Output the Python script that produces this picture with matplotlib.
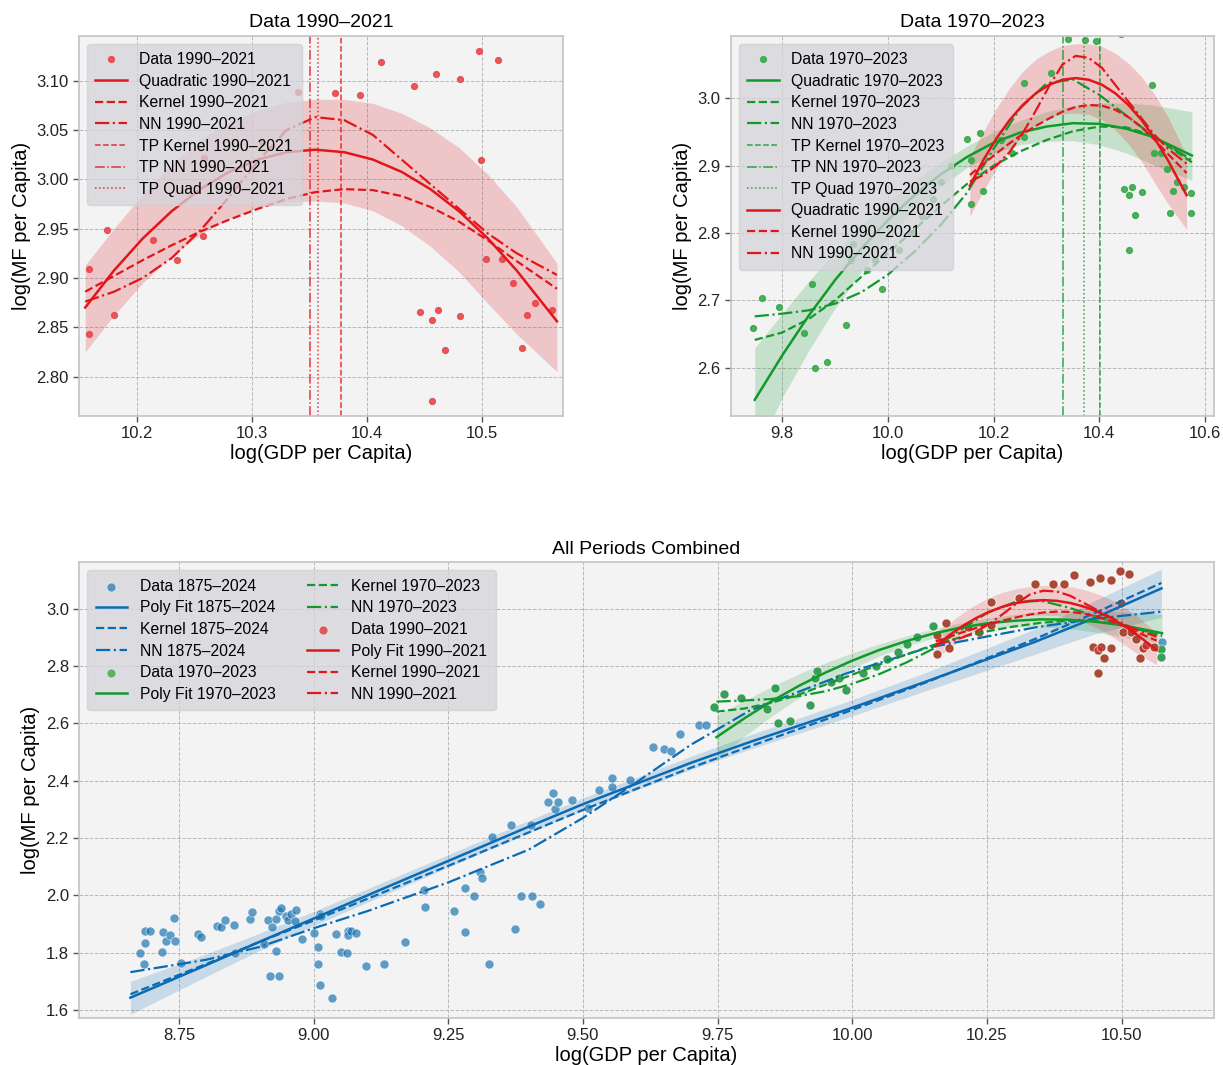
import numpy as np
import matplotlib.pyplot as plt

plt.rcParams['font.family'] = ['Liberation Sans', 'DejaVu Sans']

RED = '#e0161b'
GREEN = '#12992c'
BLUE = '#0a6ab3'
RED_PT = '#e8474a'
GREEN_PT = '#3aa84a'

# ---------------- data ----------------
# 1990-2021
x_90 = [10.158, 10.158, 10.1735, 10.180, 10.214, 10.235, 10.257, 10.258, 10.309, 10.340,
        10.372, 10.394, 10.412, 10.4405, 10.4595, 10.4806, 10.4974, 10.5138, 10.4987, 10.5034,
        10.517, 10.527, 10.5344, 10.539, 10.546, 10.561, 10.446, 10.456, 10.4617, 10.468,
        10.4806, 10.456]
y_90 = [2.909, 2.843, 2.949, 2.862, 2.938, 2.918, 2.942, 3.022, 3.038, 3.088,
        3.087, 3.0855, 3.119, 3.095, 3.107, 3.102, 3.130, 3.121, 3.020, 2.919,
        2.919, 2.895, 2.829, 2.8625, 2.875, 2.8676, 2.865, 2.857, 2.8676, 2.827,
        2.8615, 2.7747]

# 1970-1989 and 2022-2023 (rest of 1970-2023)
x_70only = [9.744, 9.761, 9.793, 9.841, 9.856, 9.862, 9.885, 9.921, 9.930, 9.934,
            9.960, 9.975, 9.989, 10.020, 10.045, 10.065, 10.085, 10.101, 10.120, 10.150]
y_70only = [2.658, 2.704, 2.690, 2.651, 2.724, 2.600, 2.608, 2.663, 2.760, 2.784,
            2.745, 2.760, 2.716, 2.775, 2.800, 2.825, 2.850, 2.876, 2.900, 2.940]
x_2223 = [10.574, 10.574]
y_2223 = [2.860, 2.830]

# 1875-1969 and 2024 (rest of 1875-2024)
x_early = [8.677, 8.686, 8.687, 8.687, 8.697, 8.719, 8.721, 8.726, 8.733, 8.741,
           8.742, 8.754, 8.785, 8.791, 8.820, 8.829, 8.835, 8.852, 8.855, 8.882,
           8.885, 8.908, 8.915, 8.920, 8.923, 8.931, 8.931, 8.935, 8.935, 8.940,
           8.948, 8.952, 8.959, 8.965, 8.967, 8.979, 9.001, 9.009, 9.009, 9.011,
           9.011, 9.014, 9.034, 9.041, 9.050, 9.062, 9.063, 9.064, 9.069, 9.078,
           9.097, 9.130, 9.170, 9.205, 9.207, 9.260, 9.282, 9.282, 9.297, 9.309,
           9.312, 9.326, 9.331, 9.367, 9.373, 9.385, 9.403, 9.405, 9.420, 9.435,
           9.444, 9.448, 9.454, 9.480, 9.510, 9.530, 9.554, 9.554, 9.587, 9.631,
           9.650, 9.664, 9.680, 9.716, 9.729]
y_early = [1.800, 1.762, 1.834, 1.877, 1.877, 1.804, 1.871, 1.842, 1.860, 1.922,
           1.842, 1.765, 1.866, 1.856, 1.893, 1.889, 1.913, 1.895, 1.800, 1.916,
           1.943, 1.830, 1.914, 1.720, 1.889, 1.806, 1.916, 1.720, 1.946, 1.955,
           1.929, 1.914, 1.934, 1.910, 1.949, 1.849, 1.869, 1.819, 1.762, 1.686,
           1.934, 1.929, 1.643, 1.865, 1.802, 1.800, 1.877, 1.862, 1.877, 1.869,
           1.755, 1.762, 1.836, 2.017, 1.961, 1.945, 2.027, 1.871, 1.997, 2.080,
           2.060, 1.761, 2.205, 2.247, 1.884, 1.997, 2.247, 1.997, 1.970, 2.324,
           2.356, 2.302, 2.326, 2.333, 2.306, 2.369, 2.409, 2.377, 2.402, 2.516,
           2.509, 2.503, 2.564, 2.593, 2.593]
x_2024 = [10.575]
y_2024 = [2.884]

# fitted curves, 1990-2021
g90 = [10.155, 10.18, 10.205, 10.23, 10.255, 10.28, 10.305, 10.33, 10.355,
       10.38, 10.405, 10.43, 10.455, 10.48, 10.505, 10.53, 10.565]
quad90 = [2.870, 2.9075, 2.940, 2.9675, 2.990, 3.0075, 3.020, 3.0275, 3.030,
          3.0275, 3.020, 3.0075, 2.990, 2.9675, 2.940, 2.9075, 2.856]
quad90_hi = [2.913, 2.950, 2.985, 3.015, 3.040, 3.058, 3.070, 3.078, 3.081,
             3.081, 3.077, 3.067, 3.052, 3.032, 3.005, 2.972, 2.915]
quad90_lo = [2.825, 2.862, 2.895, 2.922, 2.944, 2.960, 2.971, 2.977, 2.978,
             2.976, 2.968, 2.953, 2.932, 2.906, 2.874, 2.843, 2.805]
kern90 = [2.886, 2.902, 2.918, 2.933, 2.947, 2.959, 2.970, 2.980, 2.987,
          2.990, 2.989, 2.983, 2.972, 2.957, 2.938, 2.917, 2.889]
nn90 = [2.876, 2.886, 2.900, 2.920, 2.948, 2.982, 3.018, 3.050, 3.063,
        3.060, 3.045, 3.020, 2.995, 2.970, 2.945, 2.925, 2.903]
tp90 = {'kernel': 10.377, 'nn': 10.3505, 'quad': 10.357}

# fitted curves, 1970-2023
g70 = [9.748, 9.80, 9.85, 9.90, 9.95, 10.0, 10.05, 10.10, 10.15,
       10.20, 10.25, 10.30, 10.35, 10.40, 10.45, 10.50, 10.575]
quad70 = [2.552, 2.618, 2.677, 2.730, 2.777, 2.819, 2.856, 2.887, 2.913,
          2.934, 2.949, 2.958, 2.963, 2.962, 2.955, 2.943, 2.915]
quad70_hi = [2.629, 2.680, 2.728, 2.772, 2.811, 2.846, 2.877, 2.905, 2.929,
             2.950, 2.967, 2.980, 2.989, 2.993, 2.993, 2.990, 2.980]
quad70_lo = [2.470, 2.555, 2.625, 2.688, 2.743, 2.792, 2.835, 2.869, 2.897,
             2.918, 2.931, 2.936, 2.937, 2.931, 2.919, 2.902, 2.878]
kern70 = [2.641, 2.652, 2.672, 2.700, 2.735, 2.770, 2.805, 2.840, 2.873,
          2.900, 2.921, 2.938, 2.951, 2.958, 2.957, 2.945, 2.905]
nn70 = [2.676, 2.680, 2.685, 2.695, 2.712, 2.738, 2.772, 2.812, 2.860,
        2.925, 2.985, 3.022, 3.028, 3.005, 2.975, 2.945, 2.908]
tp70 = {'kernel': 10.401, 'nn': 10.332, 'quad': 10.370}

# fitted curves, 1875-2024
g75 = [8.66, 8.8, 8.9, 9.0, 9.1, 9.25, 9.4, 9.5, 9.6, 9.7, 9.81, 9.99,
       10.14, 10.34, 10.45, 10.574]
poly75 = [1.643, 1.756, 1.838, 1.919, 2.000, 2.120, 2.240, 2.318, 2.390, 2.462,
          2.535, 2.648, 2.748, 2.885, 2.968, 3.071]
poly75_hi = [1.700, 1.795, 1.868, 1.944, 2.023, 2.142, 2.262, 2.340, 2.412, 2.485,
             2.560, 2.676, 2.780, 2.930, 3.028, 3.138]
poly75_lo = [1.585, 1.716, 1.808, 1.894, 1.976, 2.098, 2.218, 2.296, 2.368, 2.439,
             2.510, 2.620, 2.716, 2.842, 2.912, 2.970]
kern75 = [1.655, 1.760, 1.838, 1.912, 1.988, 2.103, 2.220, 2.298, 2.372, 2.445,
          2.520, 2.640, 2.745, 2.895, 2.985, 3.090]
nn75 = [1.732, 1.775, 1.820, 1.885, 1.945, 2.045, 2.160, 2.270, 2.395, 2.525,
        2.645, 2.775, 2.864, 2.935, 2.965, 2.990]

x_70 = x_70only + x_90 + x_2223
y_70 = y_70only + y_90 + y_2223
x_all = x_early + x_70 + x_2024
y_all = y_early + y_70 + y_2024

lab90 = '1990\u20132021'
lab70 = '1970\u20132023'
lab75 = '1875\u20132024'


def style_axes(ax):
    ax.set_facecolor('#f3f3f3')
    ax.grid(True, linestyle='--', linewidth=0.7, color='#b8b8b8')
    ax.set_axisbelow(True)
    for s in ax.spines.values():
        s.set_color('#c4c4c4')
        s.set_linewidth(1.2)
    ax.tick_params(labelsize=12, length=4, width=1, color='#555555', labelcolor='#222222')
    ax.set_xlabel('log(GDP per Capita)', fontsize=14.5, labelpad=2)
    ax.set_ylabel('log(MF per Capita)', fontsize=14.5, labelpad=4)


def legend(ax, **kw):
    lg = ax.legend(loc='upper left', fontsize=11.3, labelspacing=0.42, handlelength=2.0,
                   borderpad=0.55, fancybox=True, **kw)
    fr = lg.get_frame()
    fr.set_facecolor('#d4d4da')
    fr.set_alpha(0.75)
    fr.set_edgecolor('#cfcfcf')
    return lg


fig = plt.figure(figsize=(12.23, 10.65), dpi=100)
ax1 = fig.add_axes([0.0646, 0.6094, 0.3955, 0.3571])
ax2 = fig.add_axes([0.5975, 0.6094, 0.3952, 0.3571])
ax3 = fig.add_axes([0.0648, 0.0444, 0.9276, 0.4276])

# ---- top left: 1990-2021 ----
ax1.fill_between(g90, quad90_lo, quad90_hi, color=RED, alpha=0.2, lw=0)
ax1.plot(x_90, y_90, 'o', ms=4.2, color=RED_PT, alpha=0.9, label='Data ' + lab90)
ax1.plot(g90, quad90, '-', color=RED, lw=1.8, label='Quadratic ' + lab90)
ax1.plot(g90, kern90, '--', color=RED, lw=1.6, label='Kernel ' + lab90)
ax1.plot(g90, nn90, '-.', color=RED, lw=1.6, label='NN ' + lab90)
ax1.axvline(tp90['kernel'], color=RED, ls='--', lw=1.1, alpha=0.85, label='TP Kernel ' + lab90)
ax1.axvline(tp90['nn'], color=RED, ls='-.', lw=1.1, alpha=0.85, label='TP NN ' + lab90)
ax1.axvline(tp90['quad'], color=RED, ls=':', lw=1.1, alpha=0.85, label='TP Quad ' + lab90)
ax1.set_xlim(10.1496, 10.570)
ax1.set_ylim(2.760, 3.1456)
ax1.set_xticks([10.2, 10.3, 10.4, 10.5])
ax1.set_yticks([2.80, 2.85, 2.90, 2.95, 3.00, 3.05, 3.10])
ax1.set_yticklabels(['%.2f' % v for v in [2.80, 2.85, 2.90, 2.95, 3.00, 3.05, 3.10]])
ax1.set_title('Data ' + lab90, fontsize=14, pad=6)
style_axes(ax1)
legend(ax1)

# ---- top right: 1970-2023 with 1990-2021 fits ----
ax2.fill_between(g70, quad70_lo, quad70_hi, color=GREEN, alpha=0.2, lw=0)
ax2.fill_between(g90, quad90_lo, quad90_hi, color=RED, alpha=0.2, lw=0)
ax2.plot(x_70, y_70, 'o', ms=4.2, color=GREEN_PT, alpha=0.9, label='Data ' + lab70)
ax2.plot(g70, quad70, '-', color=GREEN, lw=1.8, label='Quadratic ' + lab70)
ax2.plot(g70, kern70, '--', color=GREEN, lw=1.6, label='Kernel ' + lab70)
ax2.plot(g70, nn70, '-.', color=GREEN, lw=1.6, label='NN ' + lab70)
ax2.axvline(tp70['kernel'], color=GREEN, ls='--', lw=1.1, alpha=0.85, label='TP Kernel ' + lab70)
ax2.axvline(tp70['nn'], color=GREEN, ls='-.', lw=1.1, alpha=0.85, label='TP NN ' + lab70)
ax2.axvline(tp70['quad'], color=GREEN, ls=':', lw=1.1, alpha=0.85, label='TP Quad ' + lab70)
ax2.plot(g90, quad90, '-', color=RED, lw=1.8, label='Quadratic ' + lab90)
ax2.plot(g90, kern90, '--', color=RED, lw=1.6, label='Kernel ' + lab90)
ax2.plot(g90, nn90, '-.', color=RED, lw=1.6, label='NN ' + lab90)
ax2.set_xlim(9.7026, 10.617)
ax2.set_ylim(2.528, 3.093)
ax2.set_xticks([9.8, 10.0, 10.2, 10.4, 10.6])
ax2.set_yticks([2.6, 2.7, 2.8, 2.9, 3.0])
ax2.set_title('Data ' + lab70, fontsize=14, pad=6)
style_axes(ax2)
legend(ax2)

# ---- bottom: all periods ----
ax3.fill_between(g75, poly75_lo, poly75_hi, color=BLUE, alpha=0.18, lw=0)
ax3.fill_between(g70, quad70_lo, quad70_hi, color=GREEN, alpha=0.18, lw=0)
ax3.fill_between(g90, quad90_lo, quad90_hi, color=RED, alpha=0.18, lw=0)
ax3.scatter(x_all, y_all, s=42, color='tab:blue', alpha=0.7, edgecolor='white', linewidth=0.5,
            label='Data ' + lab75, zorder=3)
ax3.plot(g75, poly75, '-', color=BLUE, lw=1.8, label='Poly Fit ' + lab75, zorder=4)
ax3.plot(g75, kern75, '--', color=BLUE, lw=1.6, label='Kernel ' + lab75, zorder=4)
ax3.plot(g75, nn75, '-.', color=BLUE, lw=1.6, label='NN ' + lab75, zorder=4)
ax3.scatter(x_70, y_70, s=42, color='tab:green', alpha=0.7, edgecolor='white', linewidth=0.5,
            label='Data ' + lab70, zorder=3)
ax3.plot(g70, quad70, '-', color=GREEN, lw=1.8, label='Poly Fit ' + lab70, zorder=4)
ax3.plot(g70, kern70, '--', color=GREEN, lw=1.6, label='Kernel ' + lab70, zorder=4)
ax3.plot(g70, nn70, '-.', color=GREEN, lw=1.6, label='NN ' + lab70, zorder=4)
ax3.scatter(x_90, y_90, s=42, color='tab:red', alpha=0.7, edgecolor='white', linewidth=0.5,
            label='Data ' + lab90, zorder=3)
ax3.plot(g90, quad90, '-', color=RED, lw=1.8, label='Poly Fit ' + lab90, zorder=4)
ax3.plot(g90, kern90, '--', color=RED, lw=1.6, label='Kernel ' + lab90, zorder=4)
ax3.plot(g90, nn90, '-.', color=RED, lw=1.6, label='NN ' + lab90, zorder=4)
ax3.set_xlim(8.565, 10.671)
ax3.set_ylim(1.573, 3.162)
ax3.set_xticks([8.75, 9.0, 9.25, 9.5, 9.75, 10.0, 10.25, 10.5])
ax3.set_xticklabels(['%.2f' % v for v in [8.75, 9.0, 9.25, 9.5, 9.75, 10.0, 10.25, 10.5]])
ax3.set_yticks([1.6, 1.8, 2.0, 2.2, 2.4, 2.6, 2.8, 3.0])
ax3.set_title('All Periods Combined', fontsize=14, pad=6)
style_axes(ax3)
legend(ax3, ncol=2, columnspacing=2.0)

fig.savefig('out.png', dpi=100)
